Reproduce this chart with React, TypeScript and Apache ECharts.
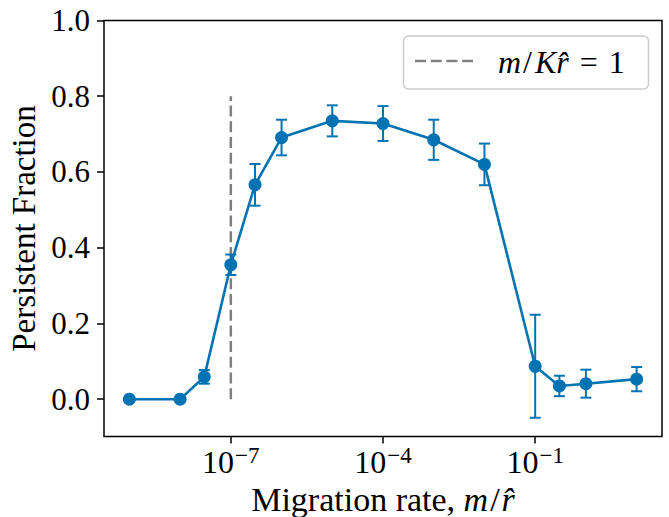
import React, { useEffect, useRef } from "react";
import * as echarts from "echarts";

// Migration rates (m / r-hat)
const rates = [1e-9, 1e-8, 3e-8, 1e-7, 3e-7, 1e-6, 1e-5, 1e-4, 1e-3, 1e-2, 1e-1, 3e-1, 1, 10];
// Persistent fraction
const fractions = [0, 0, 0.059, 0.355, 0.566, 0.691, 0.735, 0.728, 0.685, 0.62, 0.087, 0.035, 0.041, 0.053];
// Error bar half-heights
const errors = [0, 0, 0.018, 0.027, 0.055, 0.047, 0.041, 0.046, 0.053, 0.055, 0.136, 0.027, 0.037, 0.032];
// Threshold line m/(K r-hat) = 1
const thresholdRate = 1e-7;
const thresholdRange = [0, 0.8];
// Tick labels
const xTickExponents = [-7, -4, -1];
const yTicks = [0, 0.2, 0.4, 0.6, 0.8, 1.0];

const BLUE = "#0173B2";
const GRAY = "#808080";
const FONT = "Liberation Serif";

export default function App() {
  const ref = useRef<HTMLDivElement>(null);

  useEffect(() => {
    if (!ref.current) return;
    const chart = echarts.init(ref.current, undefined, { renderer: "svg" });

    const pts = rates.map((r, i) => [Math.log10(r), fractions[i]]);
    const errData = rates.map((r, i) => [Math.log10(r), fractions[i], errors[i]]);
    const tl = Math.log10(thresholdRate);

    const option: any = {
      animation: false,
      backgroundColor: "#ffffff",
      textStyle: { fontFamily: FONT },
      grid: {
        left: 104,
        top: 20.5,
        width: 558,
        height: 416,
        show: true,
        borderColor: "#000",
        borderWidth: 1.5,
        backgroundColor: "transparent",
        containLabel: false,
        outerBoundsMode: "none",
      },
      xAxis: {
        type: "value",
        min: -9.5,
        max: 1.5,
        splitLine: { show: false },
        axisLine: { show: false, onZero: false },
        axisTick: {
          show: true,
          inside: false,
          length: 7,
          lineStyle: { color: "#000", width: 1.5 },
          customValues: xTickExponents,
        },
        axisLabel: {
          show: true,
          margin: 7,
          customValues: xTickExponents,
          fontFamily: FONT,
          formatter: (v: number) => `{b|10}{s|\u2212${Math.abs(Math.round(v))}}`,
          rich: {
            b: { fontFamily: FONT, fontSize: 32, lineHeight: 32, color: "#000", padding: [4, 0, 0, 0] },
            s: { fontFamily: FONT, fontSize: 23, lineHeight: 23, color: "#000", verticalAlign: "top", padding: [0, 0, 0, 1] },
          },
        },
        name: "{u|Migration rate, }{i|m}{s|/}{i|r\u0302}",
        nameLocation: "middle",
        nameGap: 43,
        nameTextStyle: {
          fontFamily: FONT,
          lineHeight: 34,
          rich: {
            u: { fontFamily: FONT, fontSize: 34, lineHeight: 34, color: "#000" },
            s: { fontFamily: FONT, fontSize: 34, lineHeight: 34, color: "#000", padding: [0, 2, 0, 2] },
            i: { fontFamily: FONT, fontSize: 34, lineHeight: 34, fontStyle: "italic", color: "#000" },
          },
        },
      },
      yAxis: {
        type: "value",
        min: -0.0985,
        max: 1.0,
        splitLine: { show: false },
        axisLine: { show: false, onZero: false },
        axisTick: {
          show: true,
          inside: false,
          length: 7,
          lineStyle: { color: "#000", width: 1.5 },
          customValues: yTicks,
        },
        axisLabel: {
          show: true,
          margin: 14,
          customValues: yTicks,
          formatter: (v: number) => v.toFixed(1),
          fontFamily: FONT,
          fontSize: 31,
          color: "#000",
        },
        name: "Persistent Fraction",
        nameLocation: "middle",
        nameRotate: 90,
        nameGap: 63,
        nameTextStyle: { fontFamily: FONT, fontSize: 33, color: "#000" },
      },
      series: [
        {
          type: "line",
          name: "threshold",
          data: [
            [tl, thresholdRange[0]],
            [tl, thresholdRange[1]],
          ],
          symbol: "none",
          lineStyle: { color: GRAY, width: 2.5, type: [11, 4.7] },
          z: 1,
        },
        {
          type: "custom",
          name: "errors",
          data: errData,
          encode: { x: 0, y: 1 },
          z: 2,
          renderItem: (params: any, api: any) => {
            const x = api.value(0);
            const y = api.value(1);
            const e = api.value(2);
            if (!e) return null;
            const top = api.coord([x, y + e]);
            const bot = api.coord([x, y - e]);
            const hw = 5.5;
            const st = { stroke: BLUE, lineWidth: 2 };
            return {
              type: "group",
              children: [
                { type: "line", shape: { x1: top[0], y1: top[1], x2: bot[0], y2: bot[1] }, style: st },
                { type: "line", shape: { x1: top[0] - hw, y1: top[1], x2: top[0] + hw, y2: top[1] }, style: st },
                { type: "line", shape: { x1: bot[0] - hw, y1: bot[1], x2: bot[0] + hw, y2: bot[1] }, style: st },
              ],
            };
          },
        },
        {
          type: "line",
          name: "fraction",
          data: pts,
          symbol: "circle",
          symbolSize: 13,
          itemStyle: { color: BLUE },
          lineStyle: { color: BLUE, width: 2.6 },
          z: 3,
        },
      ],
      graphic: [
        {
          type: "rect",
          z: 100,
          shape: { x: 403.5, y: 36, width: 245, height: 53, r: 5 },
          style: { fill: "rgba(255,255,255,0.8)", stroke: "#cccccc", lineWidth: 1.5 },
        },
        {
          type: "line",
          z: 101,
          shape: { x1: 415, y1: 61, x2: 473, y2: 61 },
          style: { stroke: GRAY, lineWidth: 2.5, lineDash: [11, 4.7] },
        },
        {
          type: "text",
          z: 101,
          x: 498,
          y: 62,
          style: {
            text: "{i|m}{s|/}{i|K}{i|r\u0302}{e|=}{u|1}",
            fontFamily: FONT,
            align: "left",
            verticalAlign: "middle",
            rich: {
              u: { fontFamily: FONT, fontSize: 32, fill: "#000" },
              s: { fontFamily: FONT, fontSize: 32, fill: "#000", padding: [0, 3, 0, 2] },
              e: { fontFamily: FONT, fontSize: 32, fill: "#000", padding: [0, 11, 0, 11] },
              i: { fontFamily: FONT, fontSize: 32, fontStyle: "italic", fill: "#000" },
            },
          },
        },
      ],
    };

    chart.setOption(option);
    return () => chart.dispose();
  }, []);

  return (
    <div
      ref={ref}
      style={{ position: "fixed", left: 0, top: 0, width: 669, height: 517, background: "#fff" }}
    />
  );
}
